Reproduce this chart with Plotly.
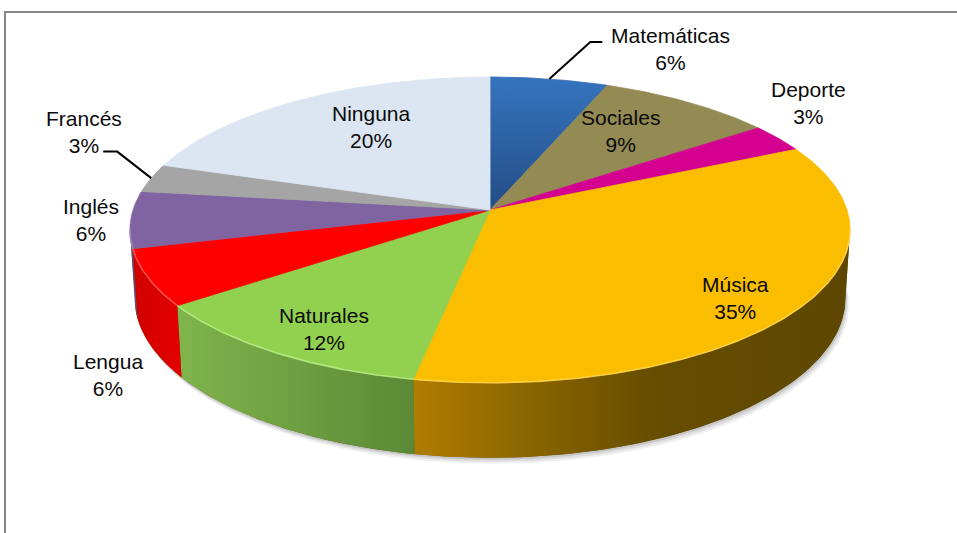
import numpy as np
import plotly.graph_objects as go

# ---------------- data ----------------
categories = ["Matemáticas", "Sociales", "Deporte", "Música", "Naturales",
              "Lengua", "Inglés", "Francés", "Ninguna"]
percentages = [6, 9, 3, 35, 12, 6, 6, 3, 20]

# ---------------- styles ----------------
TOP_COLORS = {
    "Matemáticas": "#2f69b2", "Sociales": "#948a54", "Deporte": "#d4008f",
    "Música": "#fbbd00", "Naturales": "#92d050", "Lengua": "#ff0000",
    "Inglés": "#8064a2", "Francés": "#a5a5a5", "Ninguna": "#dce6f2",
}
TOP_GRADIENT = {"Matemáticas": [[0, "#3674bf"], [1, "#234d85"]]}
WALL_GRADIENT = {
    "Música": [[0, "#b07d00"], [0.25, "#8c6600"], [0.55, "#664d00"], [1, "#5d4700"]],
    "Naturales": [[0, "#80b44c"], [1, "#5b8936"]],
    "Lengua": [[0, "#d00000"], [1, "#e40000"]],
    "Inglés": [[0, "#5f4a7a"], [1, "#5f4a7a"]],
}
RIM_COLORS = {"Música": "#ffd54d", "Naturales": "#b9ec82", "Lengua": "#ff5a5a",
              "Inglés": "#a08cc0"}
# label placement: radius on the top face (1 = rim) plus pixel nudge
LABEL_STYLE = {
    "Matemáticas": dict(r=1.0, dx=121, dy=-30, leader=[(-80, -7), (-68, -7)]),
    "Sociales": dict(r=0.65, dx=-3, dy=-7),
    "Deporte": dict(r=1.0, dx=30, dy=-35),
    "Música": dict(r=0.8, dx=4, dy=9),
    "Naturales": dict(r=0.8, dx=2, dy=8),
    "Lengua": dict(r=1.0, dx=-40, dy=97),
    "Inglés": dict(r=1.0, dx=-40, dy=0),
    "Francés": dict(r=1.0, dx=-67, dy=-46, leader=[(33, 19.5), (19, 19.5)]),
    "Ninguna": dict(r=0.65, dx=9, dy=-9),
}
FONT = dict(family="Liberation Sans, Arial, sans-serif", size=21, color="#0a0a0a")

W, HGT = 957, 533
CX, CY = 490.0, 210.0      # centre of the top face (px)
RAD = 357.0                # radius scale (px)
K = 0.13                   # perspective strength
SIN_E, COS_E = 0.421, 0.907
THICK = 0.2114             # pie thickness (radius units)
TH_MIN = np.arccos(-K)
TH_MAX = 2 * np.pi - TH_MIN


def proj(r, th, h=0.0):
    u = r * np.sin(th)
    v = r * np.cos(th)
    den = 1 + K * v - h * SIN_E * K / COS_E
    X = RAD * u / den
    Y = RAD * (v * SIN_E + h * COS_E) / den
    return CX + X, CY - Y


def arc(a, b, h=0.0, r=1.0):
    n = max(3, int(np.degrees(b - a) * 2))
    th = np.linspace(a, b, n)
    return proj(r, th, h)


total = float(sum(percentages))
fracs = np.array(percentages) / total
starts = np.concatenate([[0], np.cumsum(fracs)[:-1]]) * 2 * np.pi
ends = np.cumsum(fracs) * 2 * np.pi

fig = go.Figure()

# soft shadow under the pie
for off, alpha in [(6, 0.06), (4, 0.08), (2, 0.10)]:
    sx, sy = arc(0, 2 * np.pi, h=-THICK)
    fig.add_trace(go.Scatter(x=sx + off * 0.6, y=sy + off, fill="toself", mode="lines",
                             line=dict(width=0), fillcolor=f"rgba(0,0,0,{alpha})",
                             hoverinfo="skip", showlegend=False))

# underlay for the side wall (prevents seams)
tx, ty = arc(TH_MIN, TH_MAX)
bx, by = arc(TH_MIN, TH_MAX, h=-THICK)
fig.add_trace(go.Scatter(x=np.concatenate([tx, bx[::-1]]), y=np.concatenate([ty, by[::-1]]),
                         fill="toself", mode="lines", line=dict(width=0),
                         fillcolor="#6a5a1a", hoverinfo="skip", showlegend=False))

# side walls
for cat, a, b in zip(categories, starts, ends):
    lo, hi = max(a, TH_MIN), min(b, TH_MAX)
    if hi <= lo:
        continue
    tx, ty = arc(lo, hi)
    bx, by = arc(lo, hi, h=-THICK)
    xs = np.concatenate([tx, bx[::-1]])
    ys = np.concatenate([ty, by[::-1]])
    cs = WALL_GRADIENT.get(cat, [[0, TOP_COLORS[cat]], [1, TOP_COLORS[cat]]])
    fig.add_trace(go.Scatter(x=xs, y=ys, fill="toself", mode="lines", line=dict(width=0),
                             fillgradient=dict(type="horizontal", colorscale=cs,
                                               start=float(xs.min()), stop=float(xs.max())),
                             hoverinfo="skip", showlegend=False))

# top faces
for cat, a, b in zip(categories, starts, ends):
    ax, ay = arc(a, b)
    xs = np.concatenate([[CX], ax, [CX]])
    ys = np.concatenate([[CY], ay, [CY]])
    kw = {}
    if cat in TOP_GRADIENT:
        kw["fillgradient"] = dict(type="vertical", colorscale=TOP_GRADIENT[cat],
                                  start=float(ys.min()), stop=float(ys.max()))
    else:
        kw["fillcolor"] = TOP_COLORS[cat]
    fig.add_trace(go.Scatter(x=xs, y=ys, fill="toself", mode="lines",
                             line=dict(width=0.8, color=TOP_COLORS[cat]),
                             hoverinfo="skip", showlegend=False, **kw))

# rim highlight along the front edge
for cat, a, b in zip(categories, starts, ends):
    lo, hi = max(a, TH_MIN), min(b, TH_MAX)
    if hi <= lo or cat not in RIM_COLORS:
        continue
    rx, ry = arc(lo, hi)
    fig.add_trace(go.Scatter(x=rx, y=ry, mode="lines",
                             line=dict(width=1.6, color=RIM_COLORS[cat]),
                             opacity=0.85, hoverinfo="skip", showlegend=False))

# labels and leader lines
for cat, pct, a, b in zip(categories, percentages, starts, ends):
    st = LABEL_STYLE[cat]
    mid = (a + b) / 2
    ex, ey = proj(st["r"], mid)
    lx, ly = float(ex + st["dx"]), float(ey + st["dy"])
    fig.add_annotation(x=lx, y=ly, text=f"{cat}<br>{pct}%", showarrow=False,
                       xanchor="center", yanchor="middle", font=FONT, align="center")
    if "leader" in st:
        px_, py_ = proj(1.0, mid)
        xs = [float(px_)] + [lx + p[0] for p in st["leader"]]
        ys = [float(py_)] + [ly + p[1] for p in st["leader"]]
        fig.add_trace(go.Scatter(x=xs, y=ys, mode="lines",
                                 line=dict(width=2, color="#000000"),
                                 hoverinfo="skip", showlegend=False))

# chart-area border
fig.add_shape(type="rect", xref="x", yref="y", x0=5, y0=12, x1=W + 20, y1=HGT + 20,
              line=dict(color="#868686", width=2), layer="below")

fig.update_layout(
    width=W, height=HGT, autosize=False,
    margin=dict(l=0, r=0, t=0, b=0),
    paper_bgcolor="white", plot_bgcolor="white",
    xaxis=dict(range=[0, W], visible=False, fixedrange=True),
    yaxis=dict(range=[HGT, 0], visible=False, fixedrange=True),
    showlegend=False,
)

fig.write_html("out.html", config={"displayModeBar": False, "staticPlot": True},
               post_script="document.body.style.margin='0';document.body.style.overflow='hidden';")
